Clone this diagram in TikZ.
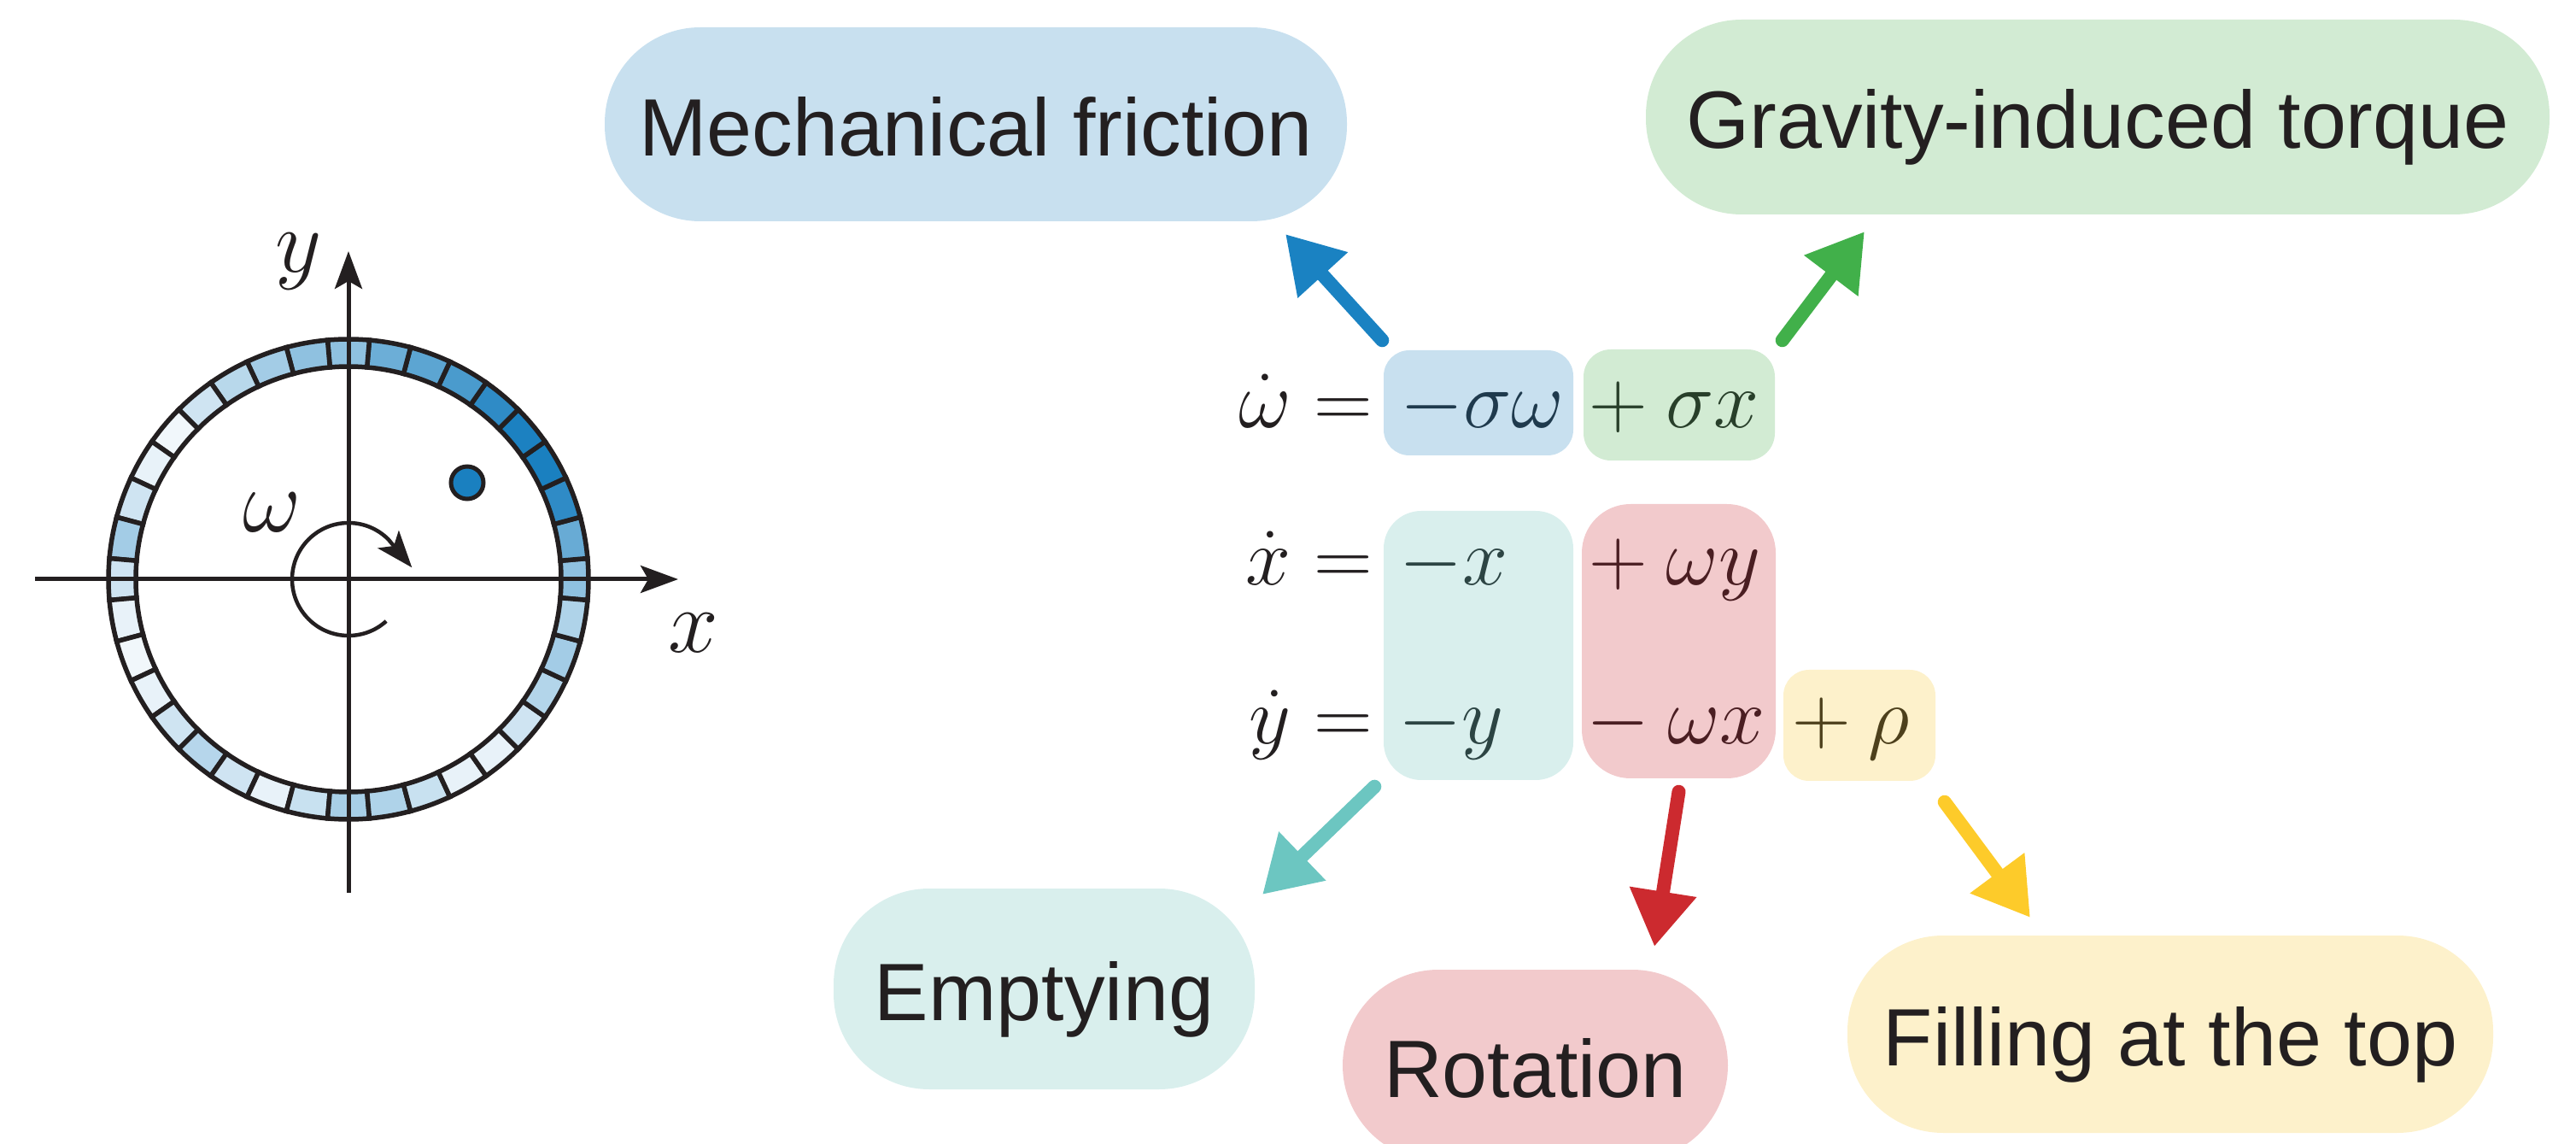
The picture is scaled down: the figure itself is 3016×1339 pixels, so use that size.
\RequirePackage{fix-cm}
\documentclass[tikz,border=0pt]{standalone}
\usepackage{fontspec}
\usepackage{tikz}
\usetikzlibrary{arrows.meta,calc}

\newfontfamily\labelfamily{Liberation Sans}
\newcommand{\labelfont}{\labelfamily\fontsize{27.1pt}{32pt}\selectfont}
\newcommand{\eqfont}{\fontsize{27.1pt}{32pt}\selectfont}
\newcommand{\axfont}{\fontsize{30pt}{36pt}\selectfont}

\definecolor{ink}{HTML}{231F20}
\definecolor{wheelblue}{HTML}{1A80C0}
\definecolor{fricfill}{HTML}{C8E0EF}
\definecolor{fricline}{HTML}{1A82C2}
\definecolor{fricink}{HTML}{1F3A4D}
\definecolor{gravfill}{HTML}{D2EBD3}
\definecolor{gravline}{HTML}{41B04A}
\definecolor{gravink}{HTML}{283F2A}
\definecolor{emptfill}{HTML}{D9EFED}
\definecolor{emptline}{HTML}{6CC6C1}
\definecolor{emptink}{HTML}{2C4443}
\definecolor{rotfill}{HTML}{F2CACC}
\definecolor{rotline}{HTML}{CC2A2F}
\definecolor{rotink}{HTML}{4A1E22}
\definecolor{topfill}{HTML}{FDF1CB}
\definecolor{topline}{HTML}{FDCB2A}
\definecolor{topink}{HTML}{4D401C}

\begin{document}
\begin{tikzpicture}[
    x=0.1mm, y=-0.1mm,
    pill/.style={
        rounded corners=11.2mm,
        inner sep=0pt,
        text height=7.4mm,
        text depth=0pt,
        font=\labelfont,
        text=ink
    },
    termbox/.style={
        inner sep=0pt
    },
    term/.style={
        inner sep=0pt,
        anchor=base,
        font=\eqfont
    },
    axlabel/.style={
        inner sep=0pt,
        font=\axfont,
        text=ink
    },
    axis/.style={ink, line width=0.5mm, -{Stealth[length=4.4mm, width=3.2mm, inset=0.9mm]}},
    conn/.style={line width=1.6mm, line cap=round, -{Triangle[length=6.5mm, width=7.5mm]}}
]
\useasboundingbox (0,0) rectangle (3016,1339);

% --- Wheel ---
\begin{scope}[shift={(408,678)}, yscale=-1]
    \foreach \a/\p in {0/49, 10/66, 20/91, 30/100, 40/99, 50/91, 60/79, 70/71,
                       80/64, 90/49, 100/49, 110/40, 120/31, 130/21, 140/6, 150/10,
                       160/21, 170/40, 180/21, 190/10, 200/6, 210/10, 220/21, 230/32,
                       240/21, 250/10, 260/24, 270/38, 280/35, 290/24, 300/10, 310/10,
                       320/21, 330/33, 340/40, 350/35}
        \filldraw[fill=wheelblue!\p, draw=ink, line width=0.55mm]
            (\a-5:249) arc[start angle=\a-5, end angle=\a+5, radius=249]
            -- (\a+5:281) arc[start angle=\a+5, end angle=\a-5, radius=281] -- cycle;
    \filldraw[fill=wheelblue, draw=ink, line width=0.5mm] (139,113) circle[radius=19];
    \draw[ink, line width=0.45mm, -{Stealth[length=4.3mm, width=3.2mm, inset=1mm]}]
        (312:66) arc[start angle=312, end angle=45, radius=66] -- ++(-50:43);
\end{scope}

% --- Axes ---
\draw[axis] (41,678) -- (794,678);
\draw[axis] (408,1045) -- (408,294);
\node[axlabel] (ylab) at (350,306) {$y$};
\node[axlabel] (xlab) at (812,741) {$x$};
\node[axlabel] (wlab) at (319,600) {$\omega$};

% --- Term boxes ---
\node[termbox, fill=fricfill, minimum width=22.2mm, minimum height=12.3mm, rounded corners=3mm] (bfric) at (1731,471.5) {};
\node[termbox, fill=gravfill, minimum width=22.4mm, minimum height=13mm, rounded corners=3.2mm] (bgrav) at (1966,474) {};
\node[termbox, fill=emptfill, minimum width=22.2mm, minimum height=31.5mm, rounded corners=4.4mm] (bempt) at (1731,755.5) {};
\node[termbox, fill=rotfill, minimum width=22.7mm, minimum height=32.1mm, rounded corners=5.7mm] (brot) at (1965.5,750.5) {};
\node[termbox, fill=topfill, minimum width=17.8mm, minimum height=13mm, rounded corners=3mm] (bfill) at (2177,849) {};

% --- Equations ---
\node[term, anchor=base east, text=ink] (lw) at (1607.5,501) {$\dot{\omega} =$};
\node[term, anchor=base east, text=ink] (lx) at (1607.5,685) {$\dot{x} =$};
\node[term, anchor=base east, text=ink] (ly) at (1607.5,871) {$\dot{y} =$};

\node[term, text=fricink] (tfric) at (1735,501) {$-\sigma\omega$};
\node[term, text=gravink] (tgrav) at (1960,501) {$+\>\sigma x$};
\node[term, text=emptink] (tex) at (1702,685) {$-x$};
\node[term, text=rotink] (trx) at (1961,685) {$+\>\omega y$};
\node[term, text=emptink] (tey) at (1699,871) {$-y$};
\node[term, text=rotink] (try) at (1962,871) {$-\>\omega x$};
\node[term, text=topink] (tfill) at (2167,871) {$+\>\rho$};

% --- Labels ---
\node[pill, fill=fricfill, minimum width=86.9mm, minimum height=22.7mm] (friction) at (1142.5,145.5) {Mechanical friction};
\node[pill, fill=gravfill, minimum width=105.8mm, minimum height=22.8mm] (gravity) at (2456,137) {Gravity-induced torque};
\node[pill, fill=emptfill, minimum width=49.3mm, minimum height=23.5mm] (emptying) at (1222.5,1157.5) {Emptying};
\node[pill, fill=rotfill, minimum width=45.1mm, minimum height=22.4mm] (rotation) at (1797.5,1247) {Rotation};
\node[pill, fill=topfill, minimum width=75.6mm, minimum height=23.1mm] (filltop) at (2541,1210.5) {Filling at the top};

% --- Connections ---
\coordinate (afric) at (1505,274);
\coordinate (agrav) at (2183,271);
\coordinate (aempt) at (1478,1047);
\coordinate (arot) at (1937,1108);
\coordinate (atop) at (2377,1074);

\draw[conn, fricline] ($(bfric.north west)+(-1,-11)$) -- (afric);
\draw[conn, gravline] ($(bgrav.north east)+(8,-10)$) -- (agrav);
\draw[conn, emptline] ($(bempt.south west)+(-10,7)$) -- (aempt);
\draw[conn, rotline] ($(brot.south)+(0,15)$) -- (arot);
\draw[conn, topline] ($(bfill.south east)+(10,24)$) -- (atop);

\end{tikzpicture}
\end{document}
